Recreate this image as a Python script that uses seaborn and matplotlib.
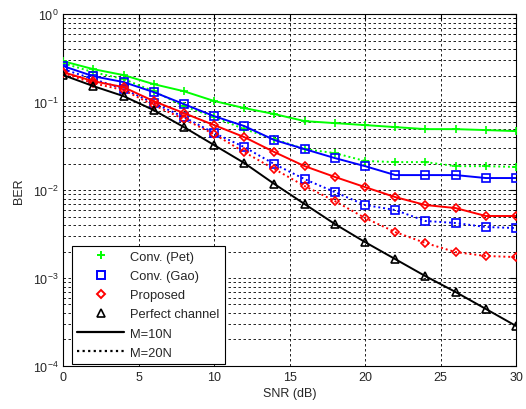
import numpy as np
import pandas as pd
import matplotlib
matplotlib.use('Agg')
import matplotlib.pyplot as plt
from matplotlib.lines import Line2D
import seaborn as sns

# SNR points (dB)
snr = [0, 2, 4, 6, 8, 10, 12, 14, 16, 18, 20, 22, 24, 26, 28, 30]

# BER
pet_10n = [0.292, 0.237, 0.203, 0.160, 0.133, 0.103, 0.0855, 0.0731, 0.0608, 0.0577,
           0.0548, 0.0520, 0.0493, 0.0493, 0.0481, 0.0468]
pet_20n = [0.277, 0.219, 0.183, 0.133, 0.0901, 0.0676, 0.0493, 0.0380, 0.0292, 0.0263,
           0.0214, 0.0208, 0.0208, 0.0187, 0.0187, 0.0183]
gao_10n = [0.257, 0.197, 0.169, 0.130, 0.0949, 0.0693, 0.0534, 0.0370, 0.0292, 0.0231,
           0.0187, 0.0148, 0.0148, 0.0148, 0.0137, 0.0137]
gao_20n = [0.237, 0.183, 0.141, 0.0975, 0.0676, 0.0445, 0.0308, 0.0197, 0.0133, 0.00949,
           0.00676, 0.00593, 0.00445, 0.00422, 0.00380, 0.00370]
prop_10n = [0.219, 0.173, 0.148, 0.1026, 0.0750, 0.0548, 0.0400, 0.0270, 0.0187, 0.0141,
            0.0108, 0.00832, 0.00676, 0.00624, 0.00507, 0.00507]
prop_20n = [0.214, 0.164, 0.137, 0.0925, 0.0641, 0.0433, 0.0270, 0.0173, 0.0111, 0.00750,
            0.00481, 0.00333, 0.00250, 0.00197, 0.00178, 0.00173]
perfect = [0.203, 0.152, 0.117, 0.0811, 0.0520, 0.0325, 0.0203, 0.0117, 0.00693, 0.00411,
           0.00256, 0.00164, 0.00105, 0.000693, 0.000445, 0.000285]

legend_names = ['Conv. (Pet)', 'Conv. (Gao)', 'Proposed', 'Perfect channel']

sns.set_style('white')
plt.rcParams['font.family'] = ['Liberation Sans', 'DejaVu Sans']
plt.rcParams['mathtext.fontset'] = 'custom'
plt.rcParams['mathtext.rm'] = 'Liberation Sans'

fig = plt.figure(figsize=(5.26, 4.10), dpi=100)
ax = fig.add_axes([0.12, 0.105, 0.861, 0.858])

dotted = (0, (1, 1.5))
ms = 5.2
# marker sizes per symbol (diamond drawn a bit smaller so it matches the square)
sizes = {'+': ms + 1, 's': ms, 'D': ms - 0.8, '^': ms}
series = [
    (pet_10n, '#00ff00', '+', '-'),
    (pet_20n, '#00ff00', '+', dotted),
    (gao_10n, '#0000ff', 's', '-'),
    (gao_20n, '#0000ff', 's', dotted),
    (prop_10n, '#ff0000', 'D', '-'),
    (prop_20n, '#ff0000', 'D', dotted),
    (perfect, 'black', '^', '-'),
]
for vals, col, mk, ls in series:
    df = pd.DataFrame({'SNR': snr, 'BER': vals})
    mfc = col if mk == '+' else 'none'
    sns.lineplot(data=df, x='SNR', y='BER', ax=ax, color=col, linestyle=ls, lw=1.4,
                 marker=mk, markersize=sizes[mk], markerfacecolor=mfc,
                 markeredgecolor=col, markeredgewidth=1.2, zorder=3)

ax.set_yscale('log')
ax.set_xlim(0, 30)
ax.set_ylim(1e-4, 1)
ax.set_xticks([0, 5, 10, 15, 20, 25, 30])
ax.tick_params(which='both', direction='in', top=True, right=True, labelsize=9, color='black')
ax.tick_params(which='major', length=4)
ax.tick_params(which='minor', length=2)
ax.yaxis.set_minor_locator(matplotlib.ticker.LogLocator(base=10, subs=np.arange(2, 10), numticks=20))
ax.grid(True, which='both', axis='y', color='black', linestyle=(0, (3, 3)), lw=0.6)
ax.grid(True, which='major', axis='x', color='black', linestyle=(0, (3, 3)), lw=0.6)
for sp in ax.spines.values():
    sp.set_color('black')
    sp.set_linewidth(0.8)

ax.set_xlabel('SNR (dB)', fontsize=9, labelpad=3)
ax.set_ylabel('BER', fontsize=9)
ax.yaxis.set_label_coords(-0.085, 0.5)

handles = [
    Line2D([], [], color='#00ff00', marker='+', linestyle='none', markersize=sizes['+'], markeredgewidth=1.4),
    Line2D([], [], color='#0000ff', marker='s', linestyle='none', markersize=sizes['s'],
           markerfacecolor='none', markeredgewidth=1.4),
    Line2D([], [], color='#ff0000', marker='D', linestyle='none', markersize=sizes['D'],
           markerfacecolor='none', markeredgewidth=1.4),
    Line2D([], [], color='black', marker='^', linestyle='none', markersize=sizes['^'],
           markerfacecolor='none', markeredgewidth=1.2),
    Line2D([], [], color='black', linestyle='-', lw=1.6),
    Line2D([], [], color='black', linestyle=dotted, lw=1.6),
]
labels = legend_names + ['M=10N', 'M=20N']
leg = ax.legend(handles, labels, loc='lower left', bbox_to_anchor=(0.02, 0.006),
                borderaxespad=0, fontsize=9.3, handlelength=3.6, handletextpad=0.5,
                labelspacing=0.55, fancybox=False, framealpha=1, edgecolor='black',
                borderpad=0.4)
leg.get_frame().set_linewidth(0.8)
leg.set_zorder(5)

fig.savefig('out.png', dpi=100)
